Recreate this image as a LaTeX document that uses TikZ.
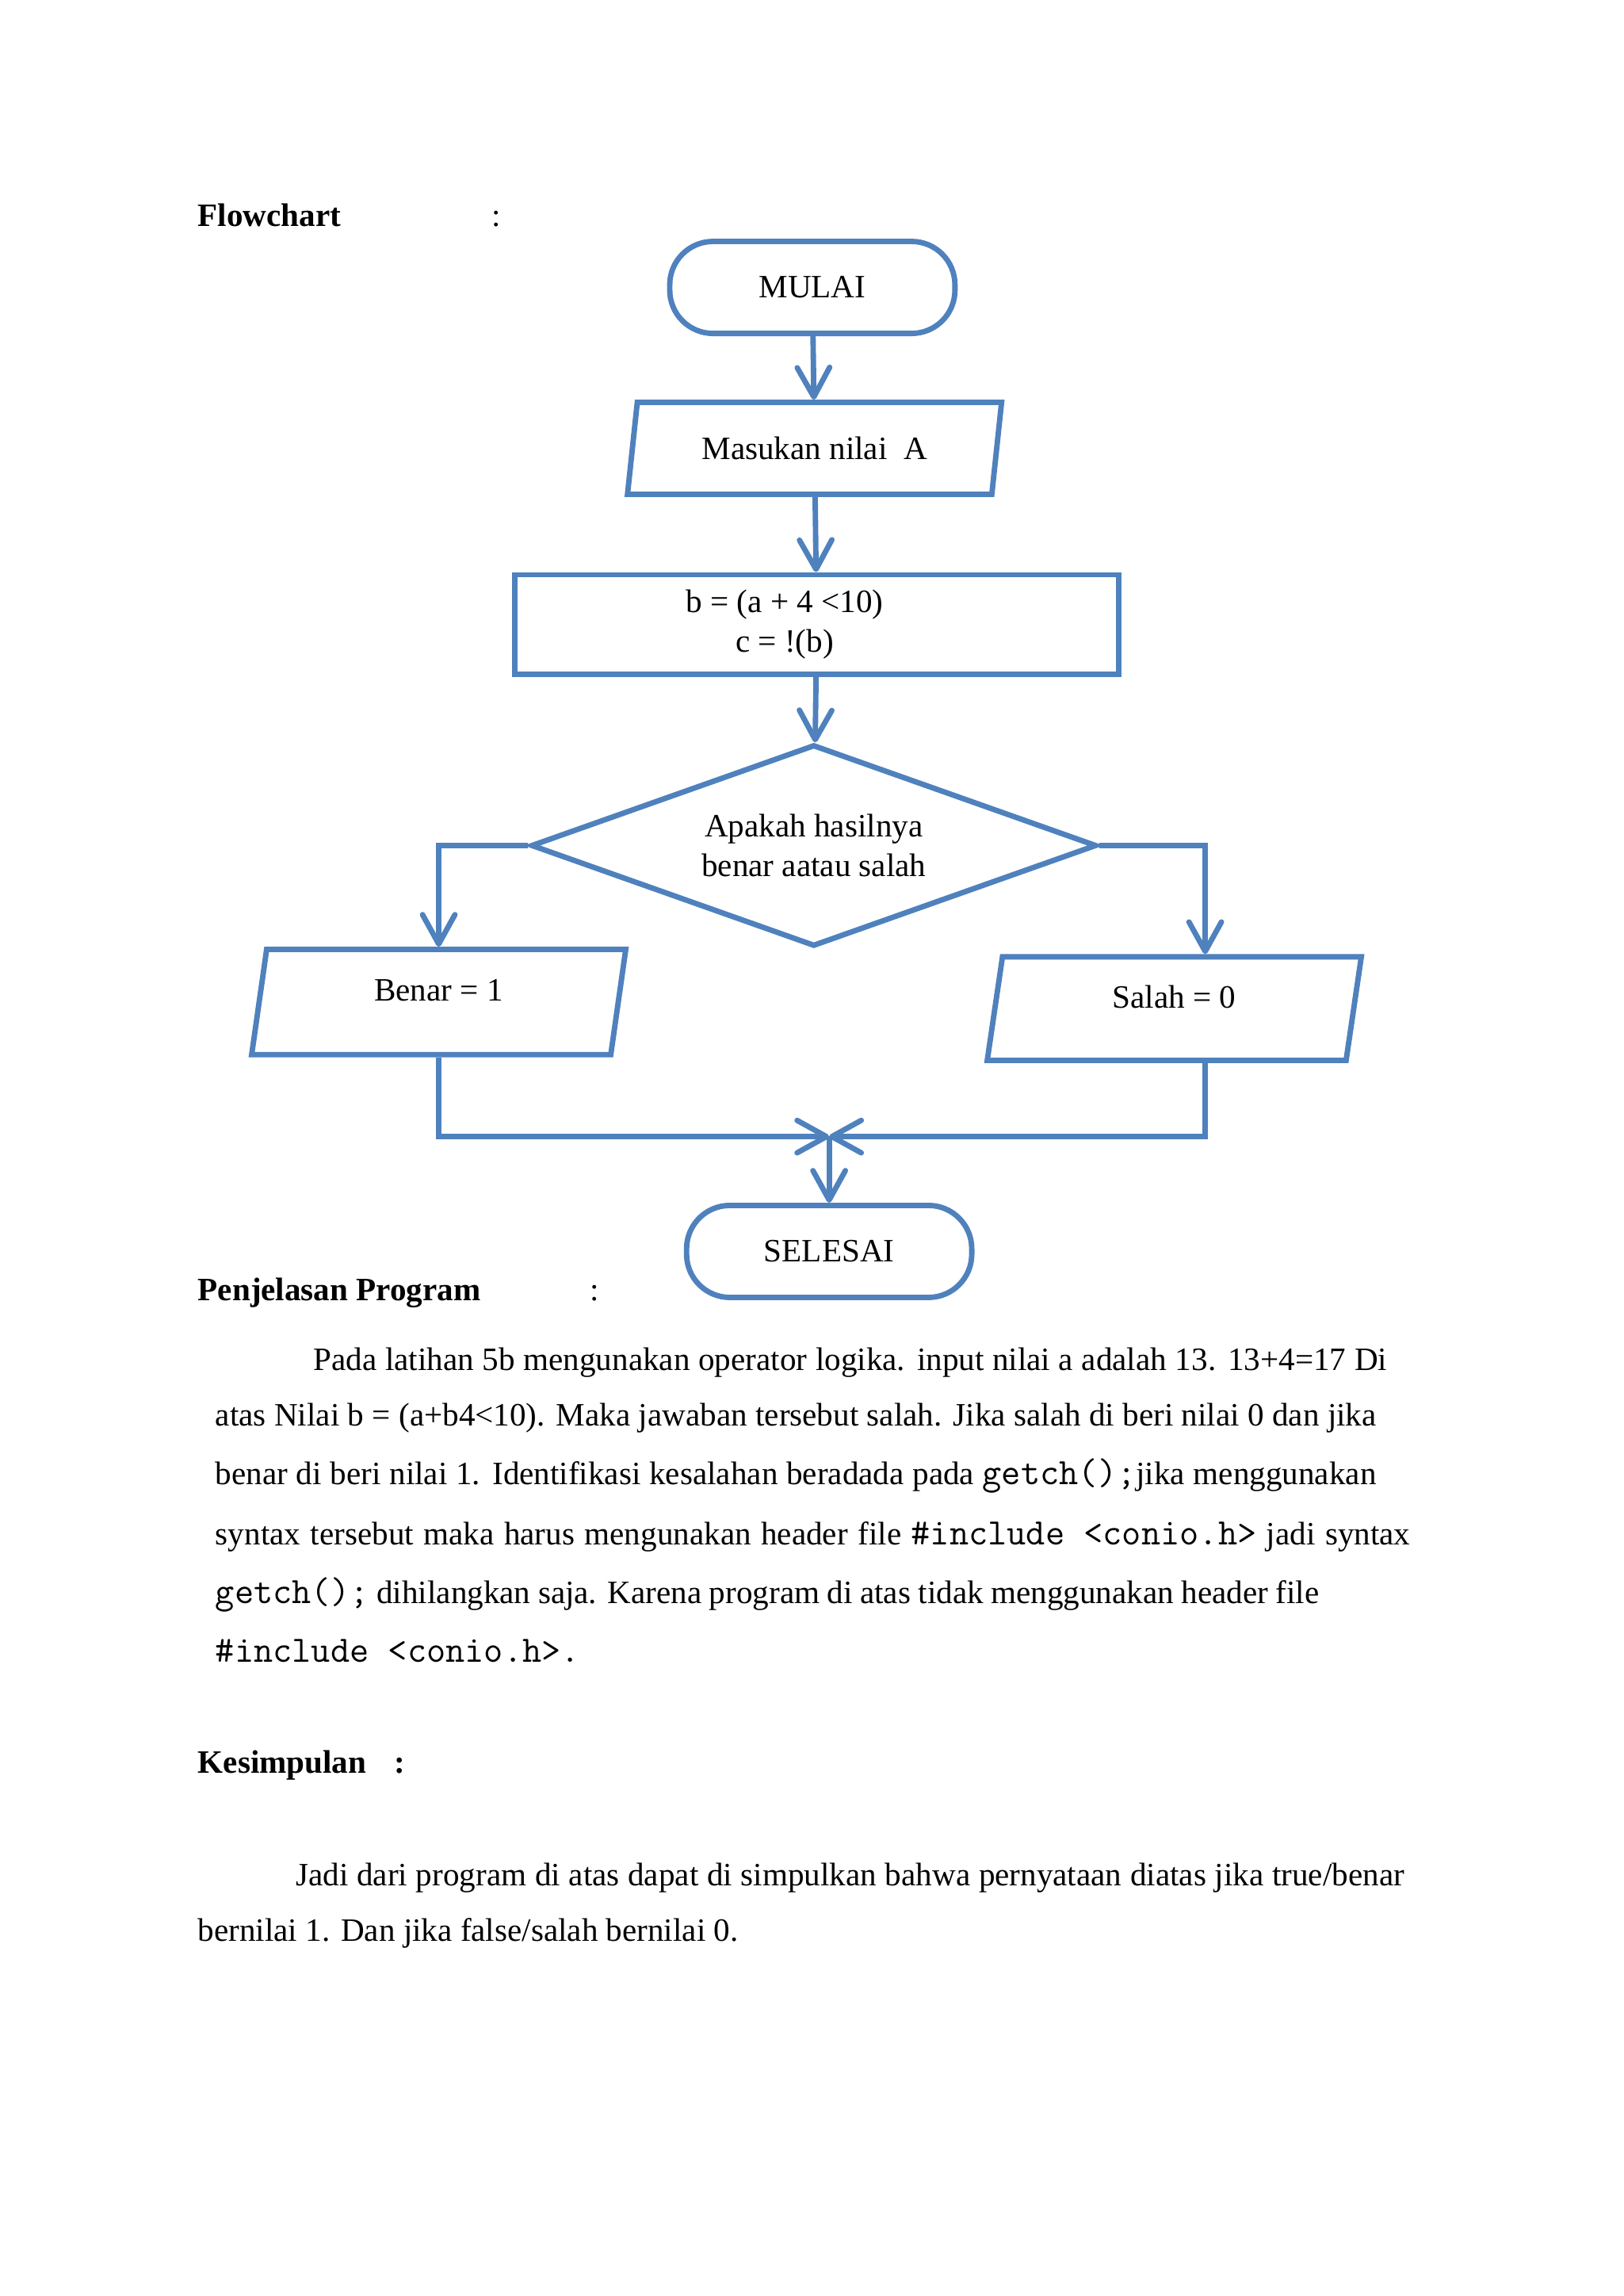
\documentclass[tikz,border=0pt]{standalone}
\usepackage{fontspec}
\setmainfont{Liberation Serif}
\setmonofont{Latin Modern Mono}[Scale=1.143]
\usetikzlibrary{shapes.geometric,arrows.meta}
\definecolor{flowblue}{RGB}{79,129,189}

\tikzset{
	terminal/.style={shape=rectangle,rounded corners=0.56cm,draw=flowblue,line width=2pt,fill=white,minimum width=3.69cm,minimum height=1.19cm},
	inout/.style={shape=trapezium,trapezium left angle=76.6,trapezium right angle=103.4,trapezium stretches body,draw=flowblue,line width=2pt,fill=white,minimum width=4.84cm,minimum height=1.19cm},
	process/.style={shape=rectangle,draw=flowblue,line width=2pt,fill=white,minimum width=7.81cm,minimum height=1.29cm,align=center},
	decision/.style={shape=diamond,aspect=2.8,draw=flowblue,line width=2pt,fill=white,minimum width=7.32cm,minimum height=2.61cm,align=center,inner sep=0pt},
	flow/.style={draw=flowblue,line width=2pt,-{Straight Barb[round,length=0.38cm,width=0.42cm]}},
	txt/.style={anchor=base west,inner sep=0pt}
}

\begin{document}
\begin{tikzpicture}[x=0.018919cm,y=-0.018919cm,every node/.style={font=\fontsize{12pt}{14.5pt}\selectfont}]
		\useasboundingbox (0,0) rectangle (1110,1569.6);
		% headings
		\node [txt] (hflow) at (135,155) {\textbf{Flowchart}};
		\node [txt] (hflowc) at (336,155) {:};
		% flowchart
		\node [terminal] (mulai) at (555.5,196.5) {MULAI};
		\node [inout] (input) at (557,306.5) {Masukan nilai\ \ A};
		\node [process] (hitung) at (558.5,427) {b = (a + 4 <10)\hspace*{0.83cm}\\c = !(b)\hspace*{0.83cm}};
		\node [decision] (cek) at (556.5,578) {Apakah hasilnya\\benar aatau salah};
		\node [inout,minimum height=1.36cm,text depth=0.3cm] (benar) at (300,685) {Benar = 1};
		\node [inout,minimum height=1.34cm,text depth=0.3cm] (salah) at (803,689.5) {Salah = 0};
		\coordinate (gabung) at (567,777);
		\node [terminal] (selesai) at (567,855.5) {SELESAI};
		\draw [flow] (mulai) -- (input);
		\draw [flow] (input) -- (hitung);
		\draw [flow] (hitung) -- (cek);
		\draw [flow] (cek.west) -| (benar.north);
		\draw [flow] (cek.east) -| ([xshift=0.4cm]salah.north);
		\draw [flow] (benar.south) |- (gabung);
		\draw [flow] ([xshift=0.4cm]salah.south) |- (gabung);
		\draw [flow] (gabung) -- (selesai);
		% penjelasan
		\node [txt] (hpenj) at (135,889) {\textbf{Penjelasan Program}};
		\node [txt] (hpenjc) at (403,889) {:};
		\node [txt] (p1) at (214,937) {\makebox[13.89cm][s]{Pada latihan 5b mengunakan operator logika. input nilai a adalah 13. 13+4=17 Di}};
		\node [txt] (p2) at (147,975) {\makebox[15.02cm][s]{atas Nilai b = (a+b4<10). Maka jawaban tersebut salah. Jika salah di beri nilai 0 dan jika}};
		\node [txt] (p3) at (147,1015) {\makebox[15.02cm][s]{benar di beri nilai 1. Identifikasi kesalahan beradada pada \texttt{getch();}jika menggunakan}};
		\node [txt] (p4) at (147,1056) {\makebox[15.46cm][s]{syntax tersebut maka harus mengunakan header file \texttt{\#include <conio.h>} jadi syntax}};
		\node [txt] (p5) at (147,1096) {\makebox[14.28cm][s]{\texttt{getch();} dihilangkan saja. Karena program di atas tidak menggunakan header file}};
		\node [txt] (p6) at (147,1136) {\texttt{\#include <conio.h>.}};
		% kesimpulan
		\node [txt] (hkes) at (135,1212) {\textbf{Kesimpulan}};
		\node [txt] (hkesc) at (269,1212) {\textbf{:}};
		\node [txt] (k1) at (202,1289) {\makebox[14.34cm][s]{Jadi dari program di atas dapat di simpulkan bahwa pernyataan diatas jika true/benar}};
		\node [txt] (k2) at (135,1327) {bernilai 1. Dan jika false/salah bernilai 0.};
	\end{tikzpicture}
\end{document}
